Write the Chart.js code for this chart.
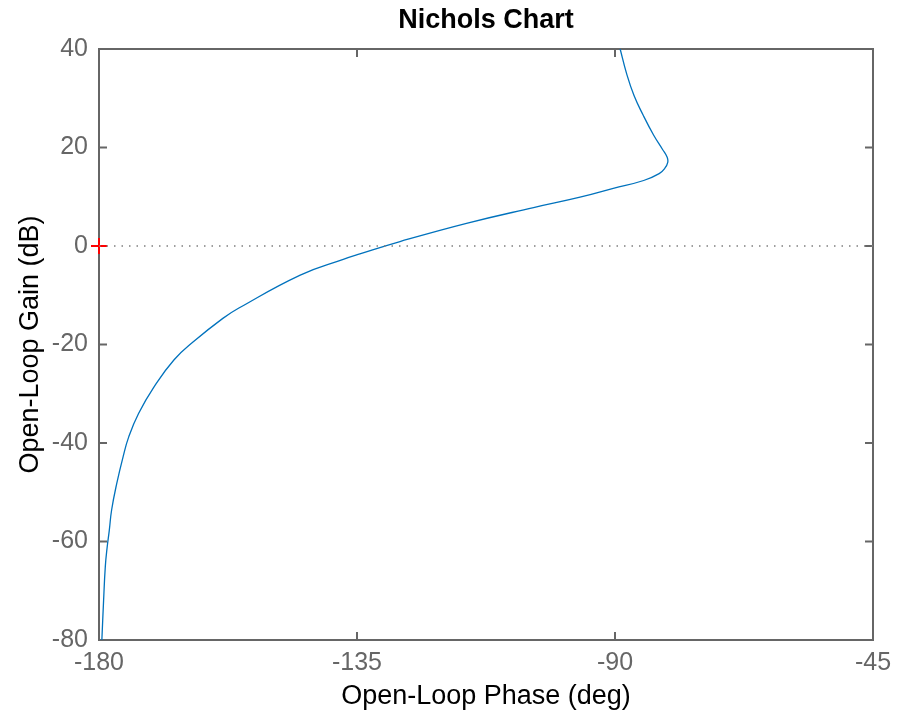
<!DOCTYPE html>
<html>
<head>
<meta charset="utf-8">
<script src="https://cdn.jsdelivr.net/npm/chart.js@4/dist/chart.umd.min.js"></script>
<style>
  html, body { margin: 0; padding: 0; background: #fff; }
  canvas { display: block; }
</style>
</head>
<body>
<canvas id="c" width="905" height="716"></canvas>
<script>
// Nichols curve: phase (deg) and gain (dB)
const phase = [-89.1, -88.0, -86.7, -85.1, -83.3, -81.7, -80.9, -80.8, -81.3, -82.3, -85.0, -90.3, -96.1, -104.2,
  -115.9, -127.5, -134.5, -137.4, -144.9, -155.6, -158.4, -163.5, -166.9, -170.4, -173.1, -174.8,
  -175.8, -176.9, -177.8, -178.2, -178.6, -178.9, -179.2, -179.5];
const gain = [40, 35.1, 30.6, 26.6, 22.6, 19.6, 18.0, 17.0, 15.8, 14.7, 13.3, 11.7, 9.9, 7.8,
  4.6, 0.9, -1.6, -2.7, -5.9, -12.6, -14.7, -19.4, -23.1, -28.6, -34.0, -38.7,
  -42.8, -48.2, -53.6, -57.7, -61.4, -65.1, -72, -80];
const xTicks = [-180, -135, -90, -45];
const yTicks = [-80, -60, -40, -20, 0, 20, 40];
const critical = { x: -180, y: 0 };

const FONT = "'Liberation Sans', Arial, Helvetica, sans-serif";
const AXIS = '#666666';

// box around the axes with inward tick marks (MATLAB look)
const boxPlugin = {
  id: 'box',
  beforeDatasetsDraw(chart) {
    const { ctx, chartArea: a, scales } = chart;
    const tl = 8;
    ctx.save();
    ctx.strokeStyle = AXIS; ctx.lineWidth = 2;
    ctx.strokeRect(a.left, a.top, a.right - a.left, a.bottom - a.top);
    ctx.beginPath();
    scales.x.ticks.forEach(t => {
      const x = scales.x.getPixelForValue(t.value);
      ctx.moveTo(x, a.bottom); ctx.lineTo(x, a.bottom - tl);
      ctx.moveTo(x, a.top); ctx.lineTo(x, a.top + tl);
    });
    scales.y.ticks.forEach(t => {
      const y = scales.y.getPixelForValue(t.value);
      ctx.moveTo(a.left, y); ctx.lineTo(a.left + tl, y);
      ctx.moveTo(a.right, y); ctx.lineTo(a.right - tl, y);
    });
    ctx.stroke();
    ctx.restore();
  }
};

new Chart(document.getElementById('c'), {
  type: 'scatter',
  data: {
    datasets: [
      { data: [{ x: xTicks[0], y: 0 }, { x: xTicks[xTicks.length - 1], y: 0 }], showLine: true,
        borderColor: '#7f7f7f', borderWidth: 1.5, borderDash: [1.5, 6], pointRadius: 0 },
      { data: phase.map((p, i) => ({ x: p, y: gain[i] })), showLine: true,
        borderColor: '#0072BD', borderWidth: 1.3, pointRadius: 0, tension: 0.45 },
      { data: [critical], pointStyle: 'cross', pointRadius: 8, borderColor: '#ff0000', borderWidth: 2, clip: false }
    ]
  },
  options: {
    responsive: false, animation: false,
    layout: { padding: { left: 0, right: 32, top: 0, bottom: 0 } },
    plugins: { legend: { display: false }, tooltip: { enabled: false } },
    scales: {
      x: {
        type: 'linear', min: -180, max: -45,
        afterBuildTicks: s => { s.ticks = xTicks.map(v => ({ value: v })); },
        afterFit: s => { s.height = 76; },
        grid: { display: false, drawTicks: false }, border: { display: false },
        ticks: { color: AXIS, font: { family: FONT, size: 25 }, padding: 8, maxRotation: 0 },
        title: { display: true, text: 'Open-Loop Phase (deg)', color: '#000',
          font: { family: FONT, size: 27 }, padding: { top: 0, bottom: 3 } }
      },
      // top axis only carries the chart title, centred over the plot box
      top: {
        type: 'linear', position: 'top', min: -180, max: -45,
        afterFit: s => { s.height = 49; },
        grid: { display: false, drawTicks: false }, border: { display: false },
        ticks: { display: false },
        title: { display: true, text: 'Nichols Chart', color: '#000',
          font: { family: FONT, size: 27, weight: 'bold' }, padding: { top: 4, bottom: 0 } }
      },
      y: {
        type: 'linear', min: -80, max: 40,
        afterBuildTicks: s => { s.ticks = yTicks.map(v => ({ value: v })); },
        afterFit: s => { s.width = 99; },
        grid: { display: false, drawTicks: false }, border: { display: false },
        ticks: { color: AXIS, font: { family: FONT, size: 25 }, padding: 11 },
        title: { display: true, text: 'Open-Loop Gain (dB)', color: '#000',
          font: { family: FONT, size: 27 }, padding: { top: 14, bottom: 0 } }
      }
    }
  },
  plugins: [boxPlugin]
});
</script>
</body>
</html>
